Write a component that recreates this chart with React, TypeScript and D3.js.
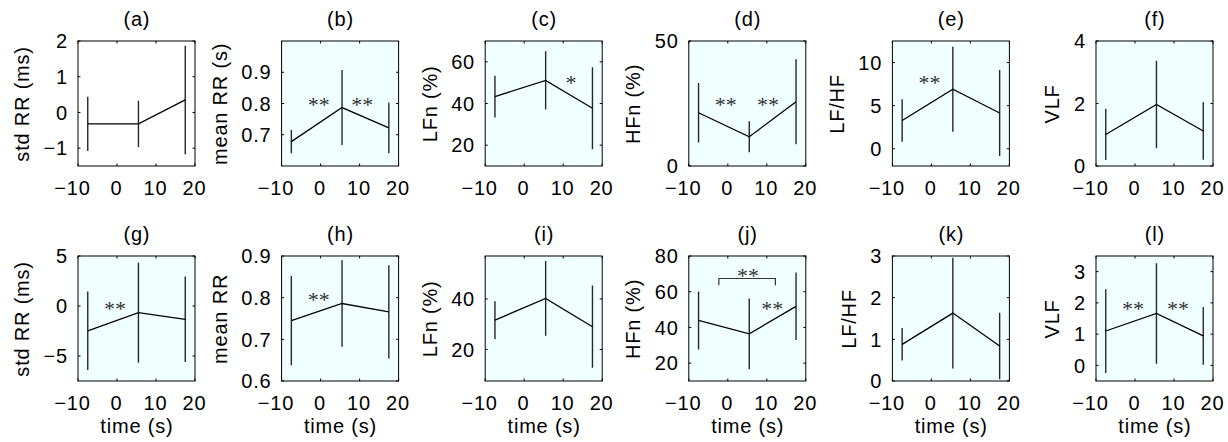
import React, { useEffect, useRef } from 'react';
import * as d3 from 'd3';

// time of the three windows (s)
const timePoints = [-7.5, 5.5, 17.5];
const xTicks = [-10, 0, 10, 20];

const panelTags = ['(a)', '(b)', '(c)', '(d)', '(e)', '(f)', '(g)', '(h)', '(i)', '(j)', '(k)', '(l)'];
const yLabels = ['std RR (ms)', 'mean RR (s)', 'LFn (%)', 'HFn (%)', 'LF/HF', 'VLF',
  'std RR (ms)', 'mean RR', 'LFn (%)', 'HFn (%)', 'LF/HF', 'VLF'];
const shaded = [false, true, true, true, true, true, true, true, true, true, true, true];

const yDomains = [
  [-1.5, 2], [0.6, 1.0], [10, 70], [0, 50], [-2, 12.5], [0, 4],
  [-7.5, 5], [0.6, 0.9], [7.5, 57], [10, 80], [0, 3], [-0.5, 3.5],
];
const yTicks = [
  [-1, 0, 1, 2], [0.7, 0.8, 0.9], [20, 40, 60], [0, 50], [0, 5, 10], [0, 2, 4],
  [-5, 0, 5], [0.6, 0.7, 0.8, 0.9], [20, 40], [20, 40, 60, 80], [0, 1, 2, 3], [0, 1, 2, 3],
];

const means = [
  [-0.32, -0.32, 0.35], [0.678, 0.787, 0.722], [43.3, 51.1, 37.7], [21.3, 11.7, 25.7],
  [3.28, 6.91, 4.15], [1.01, 1.97, 1.12],
  [-2.48, -0.67, -1.33], [0.745, 0.786, 0.766], [31.6, 40.2, 29.0], [43.9, 36.4, 51.8],
  [0.88, 1.63, 0.84], [1.1, 1.66, 0.945],
];
const errs = [
  [0.76, 0.65, 1.52], [0.037, 0.12, 0.081], [10, 14, 19.7], [11.9, 6.2, 17],
  [2.46, 4.93, 5.0], [0.82, 1.4, 0.92],
  [3.93, 5.0, 4.27], [0.107, 0.104, 0.112], [7.5, 14.8, 16.3], [16.2, 19.8, 18.9],
  [0.39, 1.33, 0.8], [1.34, 1.61, 0.925],
];

// significance marks: panel index, x (s), y (data units), text
const starPanel = [1, 1, 2, 3, 3, 4, 6, 7, 9, 9, 11, 11];
const starX = [-0.5, 10.7, 12, -0.5, 10.3, -0.5, -0.5, -0.5, 5.2, 11.4, -0.5, 11];
const starY = [0.806, 0.806, 51.3, 25.7, 25.7, 8.0, 0.03, 0.803, 70.9, 52.2, 1.91, 1.91];
const starText = ['**', '**', '*', '**', '**', '**', '**', '**', '**', '**', '**', '**'];

// bracket in (j): from x0 to x1 at level y, legs down to yEnd
const bracketPanel = [9];
const bracketX0 = [-2.3];
const bracketX1 = [12.2];
const bracketY = [67.4];
const bracketEnd = [63.6];

const fmt = (d: number) => (d < 0 ? '\u2212' + Math.abs(d) : String(d));

export default function App() {
  const svgRef = useRef<SVGSVGElement>(null);

  useEffect(() => {
    const svg = d3.select(svgRef.current);
    svg.selectAll('*').remove();

    const plotW = 117;
    const plotH = 125;
    const colLeft = d3.scaleLinear().domain([0, 5]).range([78, 1096]);
    const rowTop = [41, 256];
    const font = '"Liberation Sans", Arial, Helvetica, sans-serif';
    const fontSize = 20;
    const spacing = 0.8;
    const tickLen = 2.5;

    const label = (sel: d3.Selection<any, any, any, any>) =>
      sel.attr('font-family', font)
        .attr('font-size', fontSize)
        .attr('letter-spacing', spacing)
        .attr('fill', '#000');

    panelTags.forEach((tag, i) => {
      const col = i % 6;
      const row = Math.floor(i / 6);
      const g = svg.append('g')
        .attr('transform', `translate(${colLeft(col)},${rowTop[row]})`);

      const x = d3.scaleLinear().domain([-10, 20]).range([0, plotW]);
      const y = d3.scaleLinear().domain(yDomains[i]).range([plotH, 0]);

      g.append('rect')
        .attr('width', plotW)
        .attr('height', plotH)
        .attr('fill', shaded[i] ? '#f0ffff' : '#ffffff');

      const clipId = `clip-${i}`;
      g.append('clipPath').attr('id', clipId)
        .append('rect').attr('width', plotW).attr('height', plotH);
      const plot = g.append('g').attr('clip-path', `url(#${clipId})`);

      // error bars
      plot.selectAll('line.err')
        .data(timePoints)
        .join('line')
        .attr('class', 'err')
        .attr('x1', d => x(d))
        .attr('x2', d => x(d))
        .attr('y1', (d, k) => y(means[i][k] - errs[i][k]))
        .attr('y2', (d, k) => y(means[i][k] + errs[i][k]))
        .attr('stroke', '#262626')
        .attr('stroke-width', 1.4);

      // mean line
      const line = d3.line<number>()
        .x((d, k) => x(timePoints[k]))
        .y(d => y(d));
      plot.append('path')
        .datum(means[i])
        .attr('d', line)
        .attr('fill', 'none')
        .attr('stroke', '#000')
        .attr('stroke-width', 1.3);

      // bracket
      bracketPanel.forEach((p, b) => {
        if (p !== i) return;
        const pts: [number, number][] = [
          [x(bracketX0[b]), y(bracketEnd[b])],
          [x(bracketX0[b]), y(bracketY[b])],
          [x(bracketX1[b]), y(bracketY[b])],
          [x(bracketX1[b]), y(bracketEnd[b])],
        ];
        plot.append('path')
          .attr('d', d3.line()(pts))
          .attr('fill', 'none')
          .attr('stroke', '#333')
          .attr('stroke-width', 1.2);
      });

      // stars
      starPanel.forEach((p, s) => {
        if (p !== i) return;
        g.append('text')
          .attr('x', x(starX[s]))
          .attr('y', y(starY[s]) + 10.5)
          .attr('text-anchor', 'middle')
          .attr('font-family', '"Liberation Serif", "Times New Roman", serif')
          .attr('font-size', 22)
          .attr('fill', '#333')
          .text(starText[s]);
      });

      // inside ticks on all four sides
      const yt = yTicks[i].filter(t => t >= yDomains[i][0] && t <= yDomains[i][1]);
      yt.forEach(t => {
        g.append('line').attr('x1', 0).attr('x2', tickLen)
          .attr('y1', y(t)).attr('y2', y(t)).attr('stroke', '#000');
        g.append('line').attr('x1', plotW - tickLen).attr('x2', plotW)
          .attr('y1', y(t)).attr('y2', y(t)).attr('stroke', '#000');
      });
      xTicks.forEach(t => {
        g.append('line').attr('x1', x(t)).attr('x2', x(t))
          .attr('y1', plotH).attr('y2', plotH - tickLen).attr('stroke', '#000');
        g.append('line').attr('x1', x(t)).attr('x2', x(t))
          .attr('y1', 0).attr('y2', tickLen).attr('stroke', '#000');
      });

      // box
      g.append('rect')
        .attr('width', plotW)
        .attr('height', plotH)
        .attr('fill', 'none')
        .attr('stroke', '#000')
        .attr('stroke-width', 1);

      // tick labels
      const yLab = g.append('g');
      yLab.selectAll('text')
        .data(yt)
        .join('text')
        .attr('x', -11 + spacing)
        .attr('y', d => y(d))
        .attr('dy', '0.36em')
        .attr('text-anchor', 'end')
        .call(label)
        .text(d => fmt(d));

      // negative x labels sit a little left of their tick, as in the source figure
      g.append('g').selectAll('text')
        .data(xTicks)
        .join('text')
        .attr('x', d => x(d) + spacing / 2 - (d < 0 ? 6 : 1))
        .attr('y', plotH + 29)
        .attr('text-anchor', 'middle')
        .call(label)
        .text(d => fmt(d));

      // title
      g.append('text')
        .attr('x', plotW / 2 + spacing / 2)
        .attr('y', -15)
        .attr('text-anchor', 'middle')
        .call(label)
        .text(tag);

      // y label, placed left of the widest tick label
      const node = yLab.node() as SVGGElement;
      const tickW = node.getBBox().width;
      g.append('text')
        .attr('transform', `translate(${-11 - tickW - 21},${plotH / 2 + spacing / 2}) rotate(-90)`)
        .attr('dy', '0.36em')
        .attr('text-anchor', 'middle')
        .call(label)
        .text(yLabels[i]);

      // x label on the bottom row
      if (row === 1) {
        g.append('text')
          .attr('x', plotW / 2 + spacing / 2)
          .attr('y', plotH + 52)
          .attr('text-anchor', 'middle')
          .call(label)
          .text('time (s)');
      }
    });
  }, []);

  return (
    <svg
      ref={svgRef}
      width={1228}
      height={442}
      style={{ position: 'absolute', left: 0, top: 0, background: '#fff' }}
    />
  );
}
